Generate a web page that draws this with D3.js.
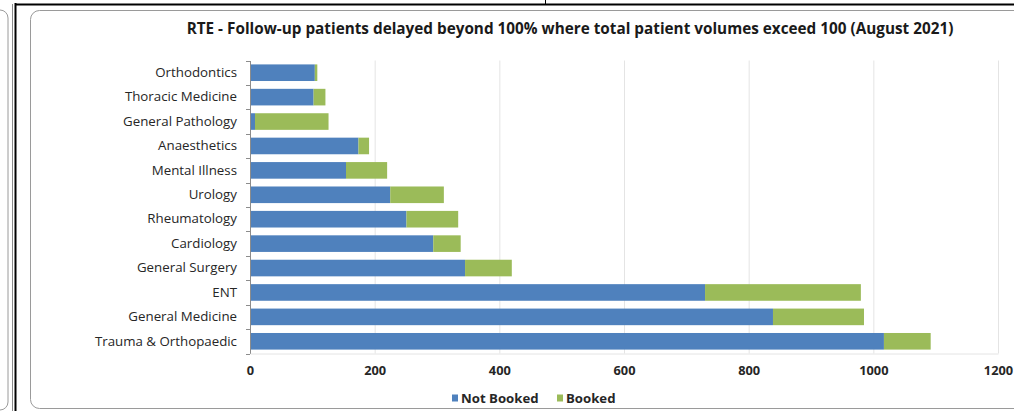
<!DOCTYPE html>
<html>
<head>
<meta charset="utf-8">
<script src="https://cdn.jsdelivr.net/npm/d3@7"></script>
<style>
  html, body { margin: 0; padding: 0; background: #fff; }
  svg { display: block; }
  text { font-family: "Open Sans", "Noto Sans", sans-serif; }
</style>
</head>
<body>
<svg id="chart" width="1014" height="411"></svg>
<script>
// Specialties, top to bottom
const categories = [
  "Orthodontics", "Thoracic Medicine", "General Pathology", "Anaesthetics",
  "Mental Illness", "Urology", "Rheumatology", "Cardiology",
  "General Surgery", "ENT", "General Medicine", "Trauma & Orthopaedic"
];
// Follow-up patients not yet booked
const notBooked = [104, 102, 8, 174, 154, 225, 251, 294, 345, 730, 839, 1017];
// Follow-up patients booked
const booked = [4, 19, 118, 17, 66, 86, 83, 44, 75, 250, 146, 75];
const seriesNames = ["Not Booked", "Booked"];
const seriesColors = ["#4F81BD", "#9BBB59"];
const xTicks = [0, 200, 400, 600, 800, 1000, 1200];
const title = "RTE - Follow-up patients delayed beyond 100% where total patient volumes exceed 100 (August 2021)";

const svg = d3.select("#chart");

// Surrounding page furniture: side panel, divider lines and the chart card
svg.append("rect").attr("x", -20).attr("y", 10).attr("width", 28).attr("height", 400)
  .attr("rx", 8).attr("fill", "none").attr("stroke", "#9a9a9a").attr("stroke-width", 1);
svg.append("line").attr("x1", 12.5).attr("x2", 12.5).attr("y1", 4).attr("y2", 411)
  .attr("stroke", "#8a8a8a").attr("stroke-width", 1);
svg.append("line").attr("x1", 15.5).attr("x2", 15.5).attr("y1", 3).attr("y2", 411)
  .attr("stroke", "#000").attr("stroke-width", 2);
svg.append("line").attr("x1", 15).attr("x2", 1014).attr("y1", 4.5).attr("y2", 4.5)
  .attr("stroke", "#000").attr("stroke-width", 2);
svg.append("line").attr("x1", 545.5).attr("x2", 545.5).attr("y1", 0).attr("y2", 4)
  .attr("stroke", "#000").attr("stroke-width", 1);
svg.append("rect").attr("x", 30.5).attr("y", 10.5).attr("width", 1000).attr("height", 398)
  .attr("rx", 9).attr("fill", "#fff").attr("stroke", "#9a9a9a").attr("stroke-width", 1);

// Plot area
const plot = { left: 250, right: 998, top: 60.5, bottom: 353.5 };

const x = d3.scaleLinear().domain([0, 1200]).range([plot.left, plot.right]);
const y = d3.scaleBand().domain(categories).range([plot.top, plot.bottom])
  .paddingInner(0.32).paddingOuter(0.16);

// Vertical gridlines
svg.append("g").selectAll("line").data(xTicks.slice(1)).join("line")
  .attr("x1", d => x(d) + 0.5).attr("x2", d => x(d) + 0.5)
  .attr("y1", plot.top).attr("y2", plot.bottom)
  .attr("stroke", "#e4e4e4").attr("stroke-width", 1);

// Stacked bars
const stackData = categories.map((c, i) => ({ cat: c, "Not Booked": notBooked[i], "Booked": booked[i] }));
const stacked = d3.stack().keys(seriesNames)(stackData);

svg.append("g").selectAll("g").data(stacked).join("g")
  .attr("fill", (d, i) => seriesColors[i])
  .selectAll("rect").data(d => d).join("rect")
  .attr("x", d => x(d[0]))
  .attr("width", d => x(d[1]) - x(d[0]))
  .attr("y", d => y(d.data.cat))
  .attr("height", y.bandwidth());

// Category axis
const yAxis = d3.axisLeft(y).tickSize(0).tickPadding(13);
const yg = svg.append("g").attr("transform", `translate(${plot.left},0)`).call(yAxis);
yg.select(".domain").attr("stroke", "#8c8c8c");
yg.selectAll("text").attr("font-size", 13.3).attr("fill", "#262626");

// Tick marks between categories
const bounds = categories.map(c => y(c) - y.step() * y.paddingInner() / 2)
  .concat([plot.bottom]);
svg.append("g").selectAll("line").data(bounds).join("line")
  .attr("x1", plot.left - 4).attr("x2", plot.left)
  .attr("y1", d => Math.round(d) + 0.5).attr("y2", d => Math.round(d) + 0.5)
  .attr("stroke", "#8c8c8c");

// Value axis
const xAxis = d3.axisBottom(x).tickValues(xTicks).tickSize(0).tickPadding(12).tickFormat(d3.format("d"));
const xg = svg.append("g").attr("transform", `translate(0,${plot.bottom})`).call(xAxis);
xg.select(".domain").attr("stroke", "#e4e4e4");
xg.selectAll("text").attr("font-size", 12.8).attr("font-weight", "bold").attr("fill", "#262626");

// Title
svg.append("text").attr("x", 570).attr("y", 33.5).attr("text-anchor", "middle")
  .attr("font-size", 15.3).attr("font-weight", "bold").attr("fill", "#1a1a1a")
  .text(title);

// Legend
const legend = svg.append("g").attr("transform", "translate(452,398)");
const legendX = [0, 105];
seriesNames.forEach((name, i) => {
  const g = legend.append("g").attr("transform", `translate(${legendX[i]},0)`);
  g.append("rect").attr("x", 0).attr("y", -3.5).attr("width", 6).attr("height", 7).attr("fill", seriesColors[i]);
  g.append("text").attr("x", 9).attr("y", 4.8).attr("font-size", 13.2).attr("font-weight", "bold")
    .attr("fill", "#262626").text(name);
});
</script>
</body>
</html>
